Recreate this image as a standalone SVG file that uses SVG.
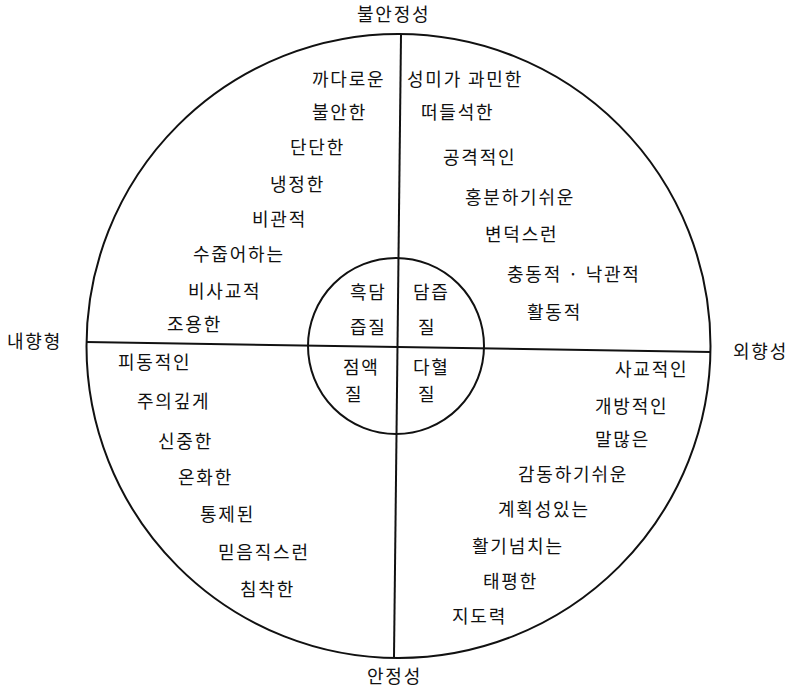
<svg xmlns="http://www.w3.org/2000/svg" width="793" height="688" viewBox="0 0 793 688">
<style>
text{font-family:"Noto Sans CJK KR","Noto Sans",sans-serif;font-size:18px;fill:#111;letter-spacing:1.8px}
.ln{stroke:#111;stroke-width:2;fill:none}
</style>
<rect width="793" height="688" fill="#fff"/>
<g id="connectors">
<circle class="ln" cx="398.5" cy="346" r="312"/>
<circle class="ln" cx="396" cy="346" r="88"/>
<line class="ln" x1="86" y1="342" x2="711" y2="352"/>
<line class="ln" x1="401" y1="35" x2="394" y2="657"/>
</g>
<g id="axes">
<text x="357" y="21">불안정성</text>
<text x="367" y="683">안정성</text>
<text x="7" y="348">내향형</text>
<text x="733" y="358">외향성</text>
</g>
<g id="upper-left">
<text x="312" y="86">까다로운</text>
<text x="312" y="119">불안한</text>
<text x="290" y="154">단단한</text>
<text x="270" y="191">냉정한</text>
<text x="252" y="226">비관적</text>
<text x="193" y="261">수줍어하는</text>
<text x="188" y="298">비사교적</text>
<text x="167" y="331">조용한</text>
</g>
<g id="upper-right">
<text x="407" y="86">성미가 과민한</text>
<text x="421" y="119">떠들석한</text>
<text x="443" y="164">공격적인</text>
<text x="465" y="204">홍분하기쉬운</text>
<text x="485" y="241">변덕스런</text>
<text x="507" y="281">충동적 · 낙관적</text>
<text x="527" y="319">활동적</text>
</g>
<g id="lower-left">
<text x="118" y="369">피동적인</text>
<text x="137" y="408">주의깊게</text>
<text x="158" y="448">신중한</text>
<text x="178" y="484">온화한</text>
<text x="200" y="521">통제된</text>
<text x="218" y="559">믿음직스런</text>
<text x="240" y="596">침착한</text>
</g>
<g id="lower-right">
<text x="615" y="376">사교적인</text>
<text x="595" y="413">개방적인</text>
<text x="595" y="446">말많은</text>
<text x="518" y="481">감동하기쉬운</text>
<text x="498" y="516">계획성있는</text>
<text x="472" y="553">활기넘치는</text>
<text x="483" y="588">태평한</text>
<text x="452" y="623">지도력</text>
</g>
<g id="temperaments">
<text x="350" y="299">흑담</text>
<text x="350" y="334">즙질</text>
<text x="413" y="299">담즙</text>
<text x="418" y="334">질</text>
<text x="343" y="374">점액</text>
<text x="345" y="401">질</text>
<text x="413" y="374">다혈</text>
<text x="418" y="401">질</text>
</g>
</svg>
